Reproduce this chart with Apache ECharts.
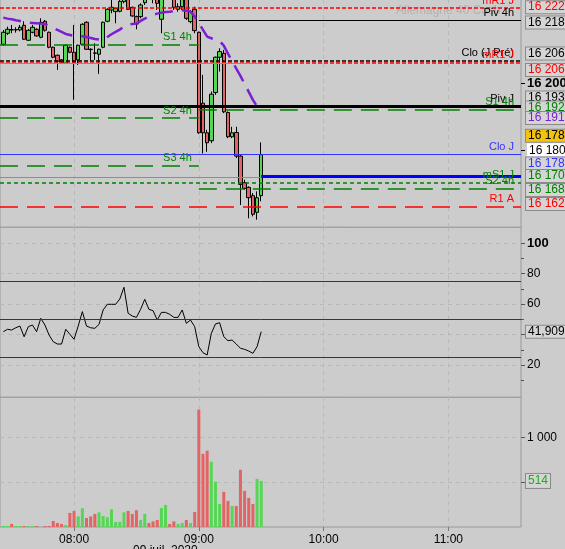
<!DOCTYPE html>
<html><head><meta charset="utf-8">
<script src="https://cdn.jsdelivr.net/npm/echarts@6/dist/echarts.min.js"></script>
<style>html,body{margin:0;padding:0;background:#cccccc;overflow:hidden}#c{width:565px;height:549px}</style>
</head><body><div id="c"></div>
<script>
// ---------- data ----------
const firstBarMinute = 446;          // 07:26
const barStepMinutes = 2;
const axisStartMinute = 444.4;
const axisEndMinute = 694.9;
const hourTicks = [480, 540, 600, 660];
const hourLabels = ['08:00', '09:00', '10:00', '11:00'];
const dateLabel = '09 juil. 2020';

const openPrices = [16211.7,16215.0,16216.1,16216.0,16216.0,16217.4,16212.9,16215.3,16216.2,16213.8,
16218.6,16215.3,16210.8,16208.4,16207.0,16206.0,16210.8,16209.3,16207.0,16211.7,
16218.3,16210.2,16209.1,16208.7,16210.8,16218.6,16222.0,16221.5,16221.6,16224.5,
16226.5,16222.8,16220.0,16220.0,16224.2,16228.5,16227.0,16226.0,16219.2,16225.5,
16228.0,16226.0,16222.2,16223.0,16226.0,16218.5,16222.2,16215.3,16194.0,16185.1,
16182.7,16197.2,16207.8,16209.0,16191.2,16183.9,16185.2,16178.1,16170.1,16168.7,
16166.2,16161.2,16166.2];
const closePrices = [16215.3,16216.2,16216.0,16216.1,16216.8,16213.2,16215.9,16216.8,16214.2,16218.3,
16215.9,16210.8,16207.8,16206.6,16206.3,16211.4,16209.3,16206.3,16211.4,16217.7,
16210.2,16210.1,16209.0,16210.2,16218.3,16222.2,16222.8,16222.4,16224.6,16228.0,
16222.2,16220.2,16217.8,16223.5,16227.0,16226.5,16225.5,16224.0,16226.0,16228.0,
16226.0,16222.8,16223.0,16226.0,16219.5,16221.5,16215.8,16185.1,16185.1,16182.1,
16196.7,16207.8,16209.5,16191.4,16183.9,16185.1,16178.1,16169.6,16168.4,16165.6,
16160.6,16165.6,16178.5];
const highPrices = [16216.0,16217.0,16217.5,16216.8,16217.5,16218.6,16216.3,16217.5,16216.5,16219.5,
16219.0,16215.5,16211.0,16208.6,16207.2,16211.6,16211.0,16217.5,16211.6,16218.0,
16218.6,16210.5,16212.0,16210.4,16218.5,16222.5,16225.5,16222.5,16225.0,16229.0,
16227.0,16223.0,16220.3,16224.0,16228.0,16229.5,16228.0,16227.0,16227.0,16229.0,
16229.0,16227.0,16224.0,16227.0,16227.0,16222.0,16223.0,16215.5,16202.5,16186.0,
16197.5,16208.0,16210.5,16210.0,16191.5,16186.9,16186.9,16178.5,16171.0,16169.0,
16167.0,16167.5,16182.2];
const lowPrices = [16211.3,16214.5,16215.0,16215.2,16215.6,16213.0,16212.7,16215.0,16214.0,16213.5,
16215.5,16210.5,16207.5,16204.0,16206.0,16205.8,16209.0,16195.0,16205.5,16211.5,
16210.0,16206.7,16207.0,16202.8,16210.5,16218.3,16221.0,16218.0,16221.3,16224.0,
16222.0,16220.0,16216.2,16219.5,16223.5,16226.0,16224.0,16222.0,16215.0,16225.0,
16225.0,16222.0,16221.5,16222.0,16219.0,16218.0,16215.0,16184.8,16178.9,16179.4,
16182.0,16196.5,16203.5,16191.0,16183.5,16183.5,16177.5,16163.4,16168.0,16159.4,
16160.0,16159.0,16164.5];
const movingAverage = [16219.7,16219.4,16219.2,16218.9,16218.7,16218.4,16218.2,16218.1,16218.0,16217.9,
16217.8,16217.2,16216.6,16216.0,16215.4,16214.8,16214.5,16214.2,16214.2,16214.1,
16213.9,16213.6,16213.3,16213.1,16213.0,16213.9,16214.7,16215.4,16216.1,16217.0,
16217.6,16217.8,16217.9,16218.7,16219.4,16220.0,16220.6,16220.9,16221.2,16221.4,
16221.5,16221.7,16221.8,16221.9,16221.8,16221.5,16220.0,16218.1,16216.0,16214.0,
16213.5,16213.0,16212.7,16211.3,16208.9,16206.6,16204.4,16202.2,16199.8,16197.4,
16195.0,16193.0,16191.9];
const volumes = [11,11,34,11,11,11,11,11,11,0,
11,11,67,45,34,22,157,179,119,209,
101,119,146,164,123,108,198,56,56,164,
179,146,187,78,146,45,63,78,213,246,
34,63,34,45,78,45,168,1310,817,851,
728,504,257,392,291,235,235,638,403,325,
257,537,514];
const rsiValues = [41.9,43.5,43.0,44.5,45.6,38.6,45.2,46.3,41.9,50.7,
46.3,39.7,35.3,33.8,33.8,43.5,40.2,36.9,45.6,55.1,
45.6,44.5,44.1,46.7,56.2,59.9,59.9,59.9,63.4,71.1,
54.0,52.2,51.3,56.6,63.2,56.6,55.7,49.6,54.6,54.6,
53.3,51.3,51.3,56.2,47.4,49.6,45.2,32.1,28.1,26.6,
40.8,47.0,47.8,38.6,36.0,36.4,33.8,31.0,30.3,29.2,
27.7,32.1,41.909];

const dailyLevelNames  = ['mR1 J', 'Clo (J Pré)', 'mR1 J', 'Piv J', 'Clo J', 'mS1 J', 'R1 A'];
const dailyLevelValues = [16222.6, 16206.8, 16206.2, 16193.0, 16178.5, 16170.1, 16162.9];
const fourHourSwitchMinute = 540;
const fourHourNamesBefore  = ['S1 4h', 'S2 4h', 'S3 4h'];
const fourHourValuesBefore = [16211.5, 16189.5, 16175.3];
const fourHourNamesAfter   = ['Piv 4h', 'S1 4h', 'S2 4h'];
const fourHourValuesAfter  = [16218.9, 16192.0, 16168.4];
const greyLevelValues = [16206.0, 16171.7];
const projectedLevelValue = 16171.9;
const rsiBandValues = [25, 50, 75];
const priceAxisValues = [16180, 16200];
const rsiTickValues = [20, 40, 60, 80, 100];
const rsiMinorTickValues = [10, 30, 50, 70, 90];
const rsiLabelValues = [20, 60, 80, 100];
const volumeTickValues = [500, 1000];
const volumeLabelValues = [1000];
const priceBoxValues = [16222.6, 16218.9, 16206.8, 16206.2, 16193.0, 16192.0, 16191.9, 16178.5, 16178.5, 16170.1, 16168.4, 16162.9];
const watermarkTitle = 'Allemagne 40 Cash';

// ---------- styles ----------
const FONT = '"Liberation Sans", Arial, sans-serif';
const RED = '#ff0000', BLACK = '#000000', GREEN = '#008000', BLUE = '#3333ff', PURPLE = '#7a1fd6';
const dailyStyles = [
  {color: RED, width: 1.5, type: [4, 2]},
  {color: BLACK, width: 1.5, type: [4, 2]},
  {color: RED, width: 1.5, type: [4, 2]},
  {color: BLACK, width: 3, type: 'solid'},
  {color: BLUE, width: 1, type: 'solid'},
  {color: GREEN, width: 1.5, type: [4, 3]},
  {color: RED, width: 1.5, type: [18, 9]}
];
const fourHourBeforeColors = [GREEN, GREEN, GREEN];
const fourHourAfterStyles = [
  {color: BLACK, width: 1, type: 'solid'},
  {color: GREEN, width: 1.5, type: [18, 9]},
  {color: GREEN, width: 1.5, type: [18, 9]}
];
const boxStyles = [
  {color: RED, dy: -0.8}, {color: BLACK, dy: 2.2}, {color: BLACK, dy: -7.1}, {color: RED, dy: 7.4},
  {color: BLACK, dy: -9}, {color: GREEN, dy: -2.3}, {color: PURPLE, dy: 7.9},
  {color: BLACK, dy: -19, bg: '#f3c30f'}, {color: BLUE, dy: 8.8},
  {color: GREEN, dy: -6.7}, {color: GREEN, dy: 1.6}, {color: RED, dy: -2.7}
];

function frNum(v, dec) {
  const p = v.toFixed(dec).split('.');
  const i = p[0].replace(/\B(?=(\d{3})+(?!\d))/g, ' ');
  return dec ? i + ',' + p[1] : i;
}

const times = openPrices.map((_, i) => firstBarMinute + i * barStepMinutes);
const lastTime = times[times.length - 1];
const candleData = times.map((t, i) => [t, openPrices[i], closePrices[i], lowPrices[i], highPrices[i]]);
const maData = times.map((t, i) => [t, movingAverage[i]]);
const volData = times.map((t, i) => [t, volumes[i]]);
const rsiData = times.map((t, i) => [t, rsiValues[i]]);

const nameLabel = (text, color) => ({show: true, position: 'insideEndTop', formatter: text, color: color,
  fontSize: 11, fontFamily: FONT, distance: [7, 2]});

const levelLines = [];
dailyLevelValues.forEach((v, i) => {
  levelLines.push({yAxis: v, lineStyle: dailyStyles[i], label: nameLabel(dailyLevelNames[i], dailyStyles[i].color)});
});
fourHourValuesBefore.forEach((v, i) => {
  levelLines.push([{coord: [axisStartMinute, v], lineStyle: {color: fourHourBeforeColors[i], width: 1.5, type: [18, 9]},
    label: nameLabel(fourHourNamesBefore[i], fourHourBeforeColors[i])}, {coord: [fourHourSwitchMinute, v]}]);
});
fourHourValuesAfter.forEach((v, i) => {
  levelLines.push([{coord: [fourHourSwitchMinute, v], lineStyle: fourHourAfterStyles[i],
    label: nameLabel(fourHourNamesAfter[i], fourHourAfterStyles[i].color)}, {coord: [axisEndMinute, v]}]);
});
greyLevelValues.forEach(v => {
  levelLines.push([{coord: [axisStartMinute, v], lineStyle: {color: '#8e8e8e', width: 1, type: 'solid'}, label: {show: false}},
    {coord: [lastTime, v]}]);
});
levelLines.push([{coord: [lastTime, projectedLevelValue], lineStyle: {color: '#0000ff', width: 3, type: 'solid'}, label: {show: false}},
  {coord: [axisEndMinute, projectedLevelValue]}]);

const boxLines = priceBoxValues.map((v, i) => ({
  yAxis: v,
  lineStyle: {color: 'rgba(0,0,0,0)', width: 0},
  label: {show: true, position: 'end', distance: 5, formatter: frNum(v, 1), offset: [0, boxStyles[i].dy],
    color: boxStyles[i].color, fontSize: 12, fontFamily: FONT,
    backgroundColor: boxStyles[i].bg || '#d5d5d5', borderColor: '#8a8a8a', borderWidth: 1,
    padding: [1, 14, 0, 2], lineHeight: 11}
}));

const gridBase = {left: 0, right: 44, show: true, outerBoundsMode: 'none', containLabel: false,
  backgroundColor: '#cccccc', borderColor: '#9a9a9a', borderWidth: 1};
const splitStyle = {show: true, lineStyle: {color: '#b8b8b8', type: [4, 4], width: 1}};
function xAxisFor(idx, showLabels) {
  return {type: 'value', gridIndex: idx, min: axisStartMinute, max: axisEndMinute,
    axisLine: {show: false},
    axisTick: {show: showLabels, customValues: hourTicks, length: 4, lineStyle: {color: '#777'}},
    axisLabel: {show: showLabels, customValues: hourTicks, margin: 7,
      formatter: v => hourLabels[hourTicks.indexOf(v)] || '', color: '#000', fontSize: 12, fontFamily: FONT},
    splitLine: splitStyle};
}

const option = {
  animation: false,
  backgroundColor: '#cccccc',
  textStyle: {fontFamily: FONT},
  grid: [
    Object.assign({}, gridBase, {top: -1, height: 228.3}),
    Object.assign({}, gridBase, {top: 227.3, height: 170}),
    Object.assign({}, gridBase, {top: 397.3, height: 129.7})
  ],
  xAxis: [xAxisFor(0, false), xAxisFor(1, false), xAxisFor(2, true)],
  yAxis: [
    {type: 'value', gridIndex: 0, position: 'right', min: 16156.7, max: 16225.3,
      axisLine: {show: false},
      axisTick: {show: true, customValues: priceAxisValues, length: 4, lineStyle: {color: '#000'}},
      axisLabel: {customValues: priceAxisValues, margin: 6,
        formatter: v => v === 16200 ? '{b|' + frNum(v, 0) + '}' : '{n|' + frNum(v, 0) + '}',
        rich: {b: {fontWeight: 'bold', fontSize: 13, color: '#000', fontFamily: FONT},
               n: {fontSize: 12, color: '#000', backgroundColor: '#ffffff', padding: [1, 20, 0, 2], fontFamily: FONT}}},
      splitLine: {show: false}},
    {type: 'value', gridIndex: 1, position: 'right', min: -1.2, max: 110.5,
      axisLine: {show: false},
      axisTick: {show: true, customValues: rsiTickValues, length: 4, lineStyle: {color: '#555'}},
      axisLabel: {customValues: rsiLabelValues, margin: 6,
        formatter: v => v === 100 ? '{b|100}' : '{n|' + v + '}',
        rich: {b: {fontWeight: 'bold', fontSize: 13, color: '#000', fontFamily: FONT},
               n: {fontSize: 12, color: '#000', fontFamily: FONT}}},
      splitLine: splitStyle},
    {type: 'value', gridIndex: 2, position: 'right', min: 0, max: 1447,
      axisLine: {show: false},
      axisTick: {show: true, customValues: volumeTickValues, length: 4, lineStyle: {color: '#555'}},
      axisLabel: {customValues: volumeLabelValues, margin: 6, formatter: v => frNum(v, 0),
        fontSize: 12, color: '#000', fontFamily: FONT},
      splitLine: splitStyle},
    {type: 'value', gridIndex: 1, position: 'right', min: -1.2, max: 110.5,
      axisLine: {show: false}, axisLabel: {show: false}, splitLine: {show: false},
      axisTick: {show: true, customValues: rsiMinorTickValues, length: 3, lineStyle: {color: '#555'}}}
  ],
  graphic: [
    {type: 'text', left: 428, top: -20, z: 0, style: {text: 'DAX', font: 'bold 26px ' + FONT, fill: '#bdbdbd'}},
    {type: 'text', left: 396, top: 5, z: 0, style: {text: watermarkTitle, font: '12px ' + FONT, fill: '#b3b3b3'}},
    {type: 'text', left: 133, top: 545, style: {text: dateLabel, font: '12px ' + FONT, fill: '#000'}}
  ],
  series: [
    {type: 'line', name: 'levels', xAxisIndex: 0, yAxisIndex: 0, data: [], z: 2,
      markLine: {silent: true, symbol: ['none', 'none'], animation: false, data: levelLines}},
    {type: 'candlestick', xAxisIndex: 0, yAxisIndex: 0, data: candleData, encode: {x: 0, y: [1, 2, 3, 4]},
      barWidth: 4, clip: true, z: 3,
      itemStyle: {color: '#55d655', color0: '#e26464', borderColor: '#000', borderColor0: '#000',
        borderColorDoji: '#000', borderWidth: 1}},
    {type: 'line', xAxisIndex: 0, yAxisIndex: 0, data: maData, symbol: 'none', clip: true, z: 4,
      lineStyle: {color: PURPLE, width: 2.5, type: [18, 9]}},
    {type: 'line', name: 'boxes', xAxisIndex: 0, yAxisIndex: 0, data: [], z: 10,
      markLine: {silent: true, symbol: ['none', 'none'], animation: false, data: boxLines}},
    {type: 'line', xAxisIndex: 1, yAxisIndex: 1, data: rsiData, symbol: 'none', z: 4,
      lineStyle: {color: '#000', width: 1},
      markLine: {silent: true, symbol: ['none', 'none'], animation: false,
        data: rsiBandValues.map(v => ({yAxis: v, lineStyle: {color: '#2626b8', width: 1, type: 'solid'}, label: {show: false}}))
          .concat([{yAxis: rsiValues[rsiValues.length - 1], lineStyle: {color: 'rgba(0,0,0,0)', width: 0},
            label: {show: true, position: 'end', distance: 5, formatter: frNum(rsiValues[rsiValues.length - 1], 3),
              color: '#000', fontSize: 12, fontFamily: FONT, backgroundColor: '#d5d5d5', borderColor: '#8a8a8a',
              borderWidth: 1, padding: [1, 2, 0, 2], lineHeight: 11}}])}},
    {type: 'bar', xAxisIndex: 2, yAxisIndex: 2, data: volData, barWidth: 3, z: 3,
      itemStyle: {color: p => closePrices[p.dataIndex] >= openPrices[p.dataIndex] ? '#55d655' : '#e26464'},
      markLine: {silent: true, symbol: ['none', 'none'], animation: false,
        data: [{yAxis: volumes[volumes.length - 1], lineStyle: {color: 'rgba(0,0,0,0)', width: 0},
          label: {show: true, position: 'end', distance: 5, formatter: String(volumes[volumes.length - 1]),
            color: '#22aa22', fontSize: 12, fontFamily: FONT, backgroundColor: '#d5d5d5', borderColor: '#8a8a8a',
            borderWidth: 1, padding: [2, 2, 1, 2], lineHeight: 11}}]}}
  ]
};

const chart = echarts.init(document.getElementById('c'), null, {renderer: 'canvas', width: 565, height: 549});
chart.setOption(option);
</script>
</body></html>
